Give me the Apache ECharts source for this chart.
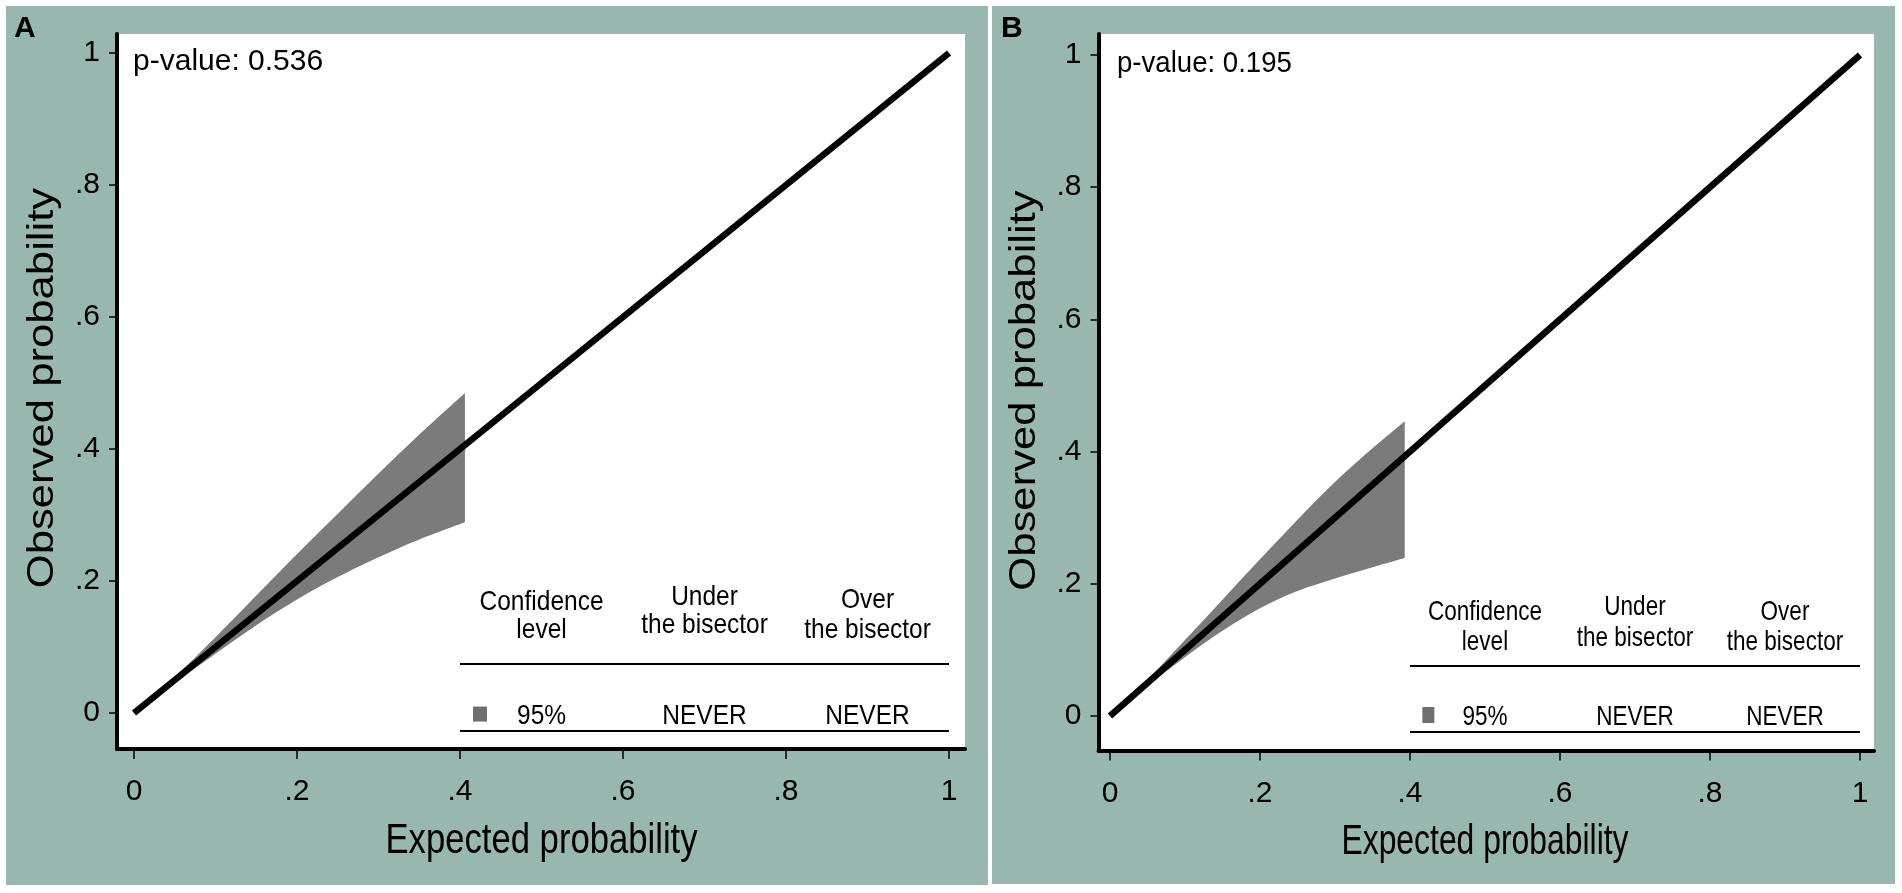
<!DOCTYPE html>
<html>
<head>
<meta charset="utf-8">
<title>Calibration belts</title>
<script src="https://cdn.jsdelivr.net/npm/echarts@6.0.0/dist/echarts.min.js"></script>
<style>
  html, body { margin: 0; padding: 0; background: #fff; }
  #chart { width: 1902px; height: 893px; }
</style>
</head>
<body>
<div id="chart"></div>
<script>
// axis ticks (Stata style labels)
const tickValues = [0, 0.2, 0.4, 0.6, 0.8, 1];
const tickLabels = ['0', '.2', '.4', '.6', '.8', '1'];

// bisector line
const bisector = [[0, 0], [1, 1]];

// panel A: 95% calibration belt
const beltAx = [0, 0.05, 0.1, 0.15, 0.2, 0.25, 0.3, 0.35, 0.406];
const beltAlow = [0, 0.046, 0.090, 0.133, 0.172, 0.206, 0.236, 0.263, 0.289];
const beltAup = [0, 0.055, 0.115, 0.178, 0.241, 0.302, 0.363, 0.422, 0.485];

// panel B: 95% calibration belt
const beltBx = [0, 0.05, 0.1, 0.15, 0.2, 0.25, 0.3, 0.35, 0.393];
const beltBlow = [0, 0.046, 0.089, 0.129, 0.163, 0.189, 0.208, 0.225, 0.239];
const beltBup = [0, 0.055, 0.115, 0.176, 0.237, 0.297, 0.354, 0.405, 0.446];

// texts
const panelLetters = ['A', 'B'];
const pValues = ['0.536', '0.195'];
const tableHeaders = [['Confidence', 'level'], ['Under', 'the bisector'], ['Over', 'the bisector']];
const tableRow = ['95%', 'NEVER', 'NEVER'];
const xTitle = 'Expected probability';
const yTitle = 'Observed probability';

const SANS = '"Liberation Sans", Arial, sans-serif';
const GREEN = '#97b7af';
const BELT = '#7b7b7b';

// layout of the two panels (sx = horizontal squeeze of the panel's lettering)
const panels = [
  {
    grid: { left: 117, top: 34, width: 848, height: 715 },
    xr: [-0.0209, 1.0196], yr: [-0.0545, 1.0288],
    bg: [6, 6, 982, 879], letter: [14, 14], sx: 1, pvDx: -1,
    belt: [beltAx, beltAlow, beltAup],
    lines: [0.0742, -0.0273],
    headDy: [[-62, -34], [-67, -39], [-64, -34]],
    rowDy: -15, square: [14, 15]
  },
  {
    grid: { left: 1098.5, top: 34, width: 775.5, height: 716.5 },
    xr: [-0.0153, 1.0187], yr: [-0.0522, 1.0318],
    bg: [992, 6, 903, 878], letter: [1001, 14], sx: 0.92, pvDx: 7,
    belt: [beltBx, beltBlow, beltBup],
    lines: [0.0756, -0.0242],
    headDy: [[-54, -24], [-59, -28], [-54, -24]],
    rowDy: -15, square: [12, 16]
  }
];

const chart = echarts.init(document.getElementById('chart'));

function valueAxis(k, range, tickLen, margin) {
  return {
    type: 'value', gridIndex: k, min: range[0], max: range[1],
    splitLine: { show: false },
    axisLine: { show: true, onZero: false, lineStyle: { color: '#000', width: 4 } },
    axisTick: { show: true, customValues: tickValues, length: tickLen, lineStyle: { color: '#000', width: 1.5 } },
    axisLabel: {
      customValues: tickValues, color: '#000', fontFamily: SANS, fontSize: 30, margin: margin,
      formatter: v => tickLabels[tickValues.findIndex(t => Math.abs(t - v) < 1e-9)]
    }
  };
}

function txt(s, x, y, size, sx, align, extra) {
  return Object.assign({
    type: 'text', x: x, y: y, scaleX: sx,
    style: { text: s, fill: '#000', fontFamily: SANS, fontSize: size, align: align || 'center', verticalAlign: 'middle' }
  }, extra || {});
}

// smooth curve through pixel points (Catmull-Rom as cubic Beziers), continuing an open path
function curveTo(pts) {
  let d = '';
  for (let i = 0; i < pts.length - 1; i++) {
    const p0 = pts[Math.max(i - 1, 0)], p1 = pts[i], p2 = pts[i + 1], p3 = pts[Math.min(i + 2, pts.length - 1)];
    const c1 = [p1[0] + (p2[0] - p0[0]) / 6, p1[1] + (p2[1] - p0[1]) / 6];
    const c2 = [p2[0] - (p3[0] - p1[0]) / 6, p2[1] - (p3[1] - p1[1]) / 6];
    d += ' C' + c1.join(' ') + ' ' + c2.join(' ') + ' ' + p2.join(' ');
  }
  return d;
}

function beltRender(b) {
  return function (params, api) {
    const up = b[0].map((x, i) => api.coord([x, b[2][i]]));
    const lo = b[0].map((x, i) => api.coord([x, b[1][i]])).reverse();
    const d = 'M' + up[0].join(' ') + curveTo(up) + ' L' + lo[0].join(' ') + curveTo(lo) + ' Z';
    return { type: 'path', shape: { pathData: d }, style: { fill: BELT } };
  };
}

function annotRender(p, k) {
  return function (params, api) {
    const ch = [];
    const a0 = api.coord([0.4, p.lines[0]]), a1 = api.coord([1, p.lines[0]]);
    const b0 = api.coord([0.4, p.lines[1]]), b1 = api.coord([1, p.lines[1]]);
    [[a0, a1], [b0, b1]].forEach(l => ch.push({
      type: 'line', shape: { x1: l[0][0], y1: l[0][1], x2: l[1][0], y2: l[1][1] },
      style: { stroke: '#000', lineWidth: 2 }
    }));
    const tsx = 0.875 * p.sx;
    [0.5, 0.7, 0.9].forEach((cx, i) => {
      const px = api.coord([cx, 0])[0];
      ch.push(txt(tableHeaders[i][0], px, a0[1] + p.headDy[i][0], 28, tsx));
      ch.push(txt(tableHeaders[i][1], px, a0[1] + p.headDy[i][1], 28, tsx));
      ch.push(txt(tableRow[i], px, b0[1] + p.rowDy, 28, tsx));
    });
    const sq = api.coord([0.4245, 0]);
    ch.push({
      type: 'rect',
      shape: { x: sq[0] - p.square[0] / 2, y: b0[1] + p.rowDy - 2 - p.square[1] / 2, width: p.square[0], height: p.square[1] },
      style: { fill: '#6f6f6f' }
    });
    // p-value in the top-left corner
    const tl = api.coord([0, 1]);
    ch.push(txt('p-value: ' + pValues[k], tl[0] + p.pvDx, tl[1] + 9, 30, p.sx, 'left'));
    // axis titles
    const xb = api.coord([0.5, p.yr[0]]);
    ch.push(txt(xTitle, xb[0], xb[1] + 92, 42, 0.825 * p.sx));
    const yl = api.coord([p.xr[0], 0.5]);
    ch.push(txt(yTitle, yl[0] - 74, yl[1] + 5, 37, 1.18, 'center', { rotation: Math.PI / 2 }));
    return { type: 'group', children: ch };
  };
}

const option = {
  animation: false,
  backgroundColor: '#fff',
  graphic: panels.flatMap((p, k) => [
    { type: 'rect', z: -10, shape: { x: p.bg[0], y: p.bg[1], width: p.bg[2], height: p.bg[3] }, style: { fill: GREEN } },
    { type: 'text', z: 10, x: p.letter[0], y: p.letter[1],
      style: { text: panelLetters[k], fill: '#000', fontFamily: SANS, fontWeight: 'bold', fontSize: 30 } }
  ]),
  grid: panels.map(p => Object.assign({ show: true, backgroundColor: '#fff', borderWidth: 0 }, p.grid)),
  xAxis: panels.map((p, k) => valueAxis(k, p.xr, 10, 28)),
  yAxis: panels.map((p, k) => valueAxis(k, p.yr, 8, 17)),
  series: panels.flatMap((p, k) => [
    { type: 'custom', xAxisIndex: k, yAxisIndex: k, silent: true, z: 2, data: [0], renderItem: beltRender(p.belt) },
    { type: 'line', xAxisIndex: k, yAxisIndex: k, silent: true, z: 3, data: bisector, symbol: 'none',
      lineStyle: { color: '#000', width: 6.5 } },
    { type: 'custom', xAxisIndex: k, yAxisIndex: k, silent: true, z: 4, data: [0],
      clip: false, renderItem: annotRender(p, k) }
  ])
};

chart.setOption(option);
</script>
</body>
</html>
